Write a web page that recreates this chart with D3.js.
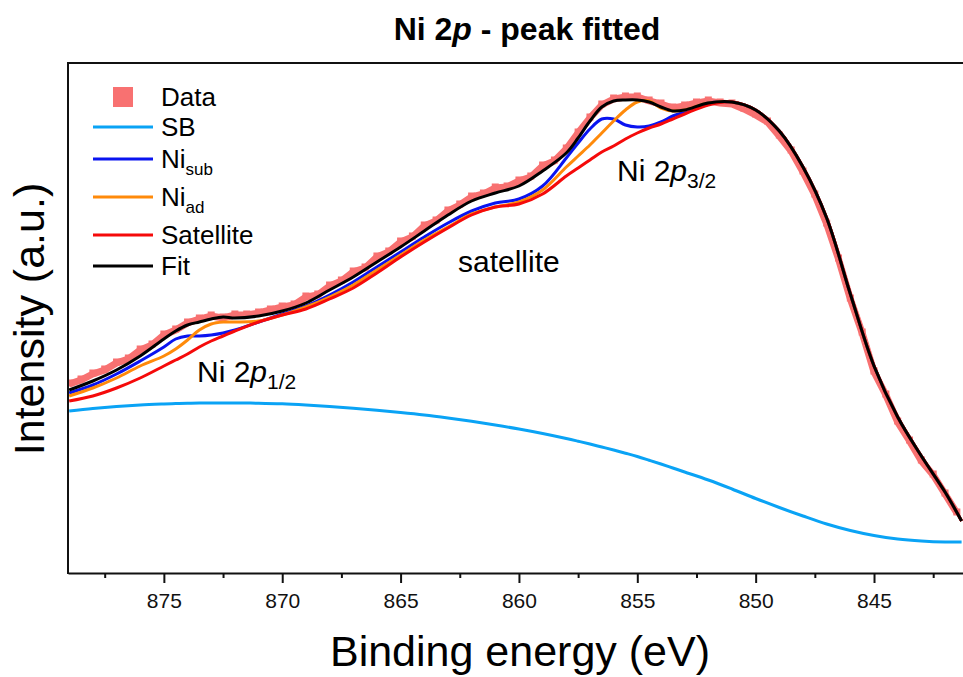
<!DOCTYPE html>
<html>
<head>
<meta charset="utf-8">
<script src="https://cdn.jsdelivr.net/npm/d3@7"></script>
<style>
  body { margin: 0; background: #fff; }
  svg { font-family: "Liberation Sans", Arial, sans-serif; }
</style>
</head>
<body>
<div id="chart"></div>
<script>
// Binding energies (eV) where the fitted curves were read
const energy = [879, 878, 877, 876, 875, 874.5, 874, 873.5, 873, 872.5, 872,
  871, 870, 869, 868, 867, 866, 865, 864, 863, 862, 861, 860, 859, 858,
  857.5, 857, 856.5, 856, 855.5, 855, 854.5, 854, 853.5, 853,
  852, 851, 850, 849, 848, 847, 846, 845, 844, 843, 842, 841.3];

// Curves (arbitrary intensity units)
const fit = [183, 192, 203, 217, 234, 242, 248, 251, 254, 256, 255,
  257, 262, 270, 283, 296, 311, 326, 342, 358, 372, 380, 387, 402, 420,
  435, 452, 466, 472, 473, 473, 471, 466, 462, 463,
  470, 471, 463, 442, 406, 355, 279, 207, 156, 117, 81, 52];
const niSub = [180, 188, 199, 212, 226, 234, 237, 237, 238, 240, 243,
  251, 259, 267, 278, 291, 306, 321, 336, 350, 362, 370, 374, 387, 415,
  430, 444, 454, 454, 448, 446, 447, 451, 457, 461,
  470, 471, 463, 442, 406, 355, 279, 207, 156, 117, 81, 52];
const niAd = [177, 185, 195, 207, 217, 224, 233, 243, 249, 251, 251,
  252, 258, 266, 276, 288, 303, 318, 333, 346, 359, 366, 371, 383, 406,
  417, 428, 440, 452, 463, 471, 472, 465, 462, 463,
  470, 471, 463, 442, 406, 355, 279, 207, 156, 117, 81, 52];
const satellite = [172, 177, 185, 195, 207, 213, 219, 226, 232, 237, 242,
  251, 258, 264, 274, 285, 300, 316, 331, 345, 358, 366, 369, 379, 397,
  405, 413, 421, 427, 434, 440, 445, 449, 454, 459,
  468, 471, 463, 442, 406, 355, 279, 207, 156, 117, 81, 52];
const sb = [162, 164.5, 166.5, 168, 169, 169.4, 169.7, 169.9, 170, 170, 170,
  169.8, 169.2, 168, 166.5, 164.7, 162.7, 160.5, 158, 155, 151.7, 148, 144, 139.5, 134.5,
  131.8, 129, 126, 123, 119.8, 116.5, 112.8, 109, 105, 101,
  93, 84, 74.5, 65.5, 57, 49, 42.5, 37.5, 34, 32, 31, 31];

// Measured spectrum
const dataEnergy = [879, 878.5, 878, 877.5, 877, 876.5, 876, 875.5, 875, 874.5,
  874, 873.5, 873, 872.5, 872, 871.5, 871, 870.5, 870, 869.5,
  869, 868.5, 868, 867.5, 867, 866.5, 866, 865.5, 865, 864.5,
  864, 863.5, 863, 862.5, 862, 861.5, 861, 860.5, 860, 859.5,
  859, 858.5, 858, 857.5, 857, 856.5, 856, 855.5, 855, 854.5,
  854, 853.5, 853, 852.5, 852, 851.5, 851, 850.5, 850, 849.5,
  849, 848.5, 848, 847.5, 847, 846.5, 846, 845.5, 845, 844.5,
  844, 843.5, 843, 842.5, 842, 841.5];
const dataCounts = [189, 193, 199, 203, 210, 214, 223, 228, 238, 243,
  250, 254, 257, 255, 258, 258, 260, 263, 266, 268,
  276, 278, 287, 292, 301, 305, 316, 321, 331, 336,
  347, 352, 362, 368, 376, 379, 385, 386, 392, 396,
  407, 412, 424, 440, 455, 468, 474, 476, 476, 472,
  469, 465, 467, 470, 472, 470, 469, 464, 458, 451,
  437, 422, 401, 378, 349, 314, 274, 240, 201, 178,
  151, 132, 112, 98, 79, 60];

const majorTicks = [875, 870, 865, 860, 855, 850, 845];
const minorTicks = [877.5, 872.5, 867.5, 862.5, 857.5, 852.5, 847.5, 842.5];

const width = 963, height = 677;
const plotLeft = 68, plotTop = 63, plotBottom = 573;

const svg = d3.select("#chart")
  .append("svg")
  .attr("width", width)
  .attr("height", height);

const x = d3.scaleLinear().domain([879.05, 841]).range([plotLeft, 968.7]);
const y = d3.scaleLinear().domain([0, 510]).range([plotBottom, plotTop]);

svg.append("clipPath").attr("id", "plot-clip")
  .append("rect")
  .attr("x", plotLeft).attr("y", plotTop)
  .attr("width", width - plotLeft).attr("height", plotBottom - plotTop);

const plot = svg.append("g").attr("clip-path", "url(#plot-clip)");

// Data: thick band plus squares
const dataPts = dataEnergy.map((e, i) => [e, dataCounts[i]]);
const dataLine = d3.line()
  .x(d => x(d[0]))
  .y(d => y(d[1]))
  .curve(d3.curveLinear);

plot.append("path")
  .attr("d", dataLine(dataPts))
  .attr("fill", "none")
  .attr("stroke", "#f87171")
  .attr("stroke-width", 7);

plot.selectAll("rect.pt")
  .data(dataPts)
  .enter()
  .append("rect")
  .attr("class", "pt")
  .attr("x", d => x(d[0]) - 3.5)
  .attr("y", d => y(d[1]) - 4.5)
  .attr("width", 7)
  .attr("height", 7)
  .attr("fill", "#f87171");

// Fitted curves
const curveLine = d3.line()
  .x((d, i) => x(energy[i]))
  .y(d => y(d))
  .curve(d3.curveCatmullRom.alpha(0.5));

const curves = [
  { values: sb, color: "#0aa3f5" },
  { values: niSub, color: "#0a14f0" },
  { values: niAd, color: "#ff8a0a" },
  { values: satellite, color: "#f50a0a" },
  { values: fit, color: "#000000" }
];

plot.selectAll("path.curve")
  .data(curves)
  .enter()
  .append("path")
  .attr("class", "curve")
  .attr("d", d => curveLine(d.values))
  .attr("fill", "none")
  .attr("stroke", d => d.color)
  .attr("stroke-width", 3)
  .attr("stroke-linejoin", "round");

// Axes
const xAxis = svg.append("g")
  .attr("transform", "translate(0," + plotBottom + ")")
  .call(d3.axisBottom(x)
    .tickValues(majorTicks)
    .tickSize(10)
    .tickSizeOuter(0)
    .tickFormat(d3.format("d")));

xAxis.select(".domain").attr("stroke-width", 2).attr("stroke", "#111");
xAxis.selectAll(".tick line").attr("stroke-width", 2).attr("stroke", "#111");
xAxis.selectAll(".tick text")
  .attr("y", 20)
  .attr("font-size", 21)
  .attr("font-family", "Liberation Sans, Arial, sans-serif")
  .attr("fill", "#111");

svg.append("g")
  .attr("transform", "translate(0," + plotBottom + ")")
  .call(d3.axisBottom(x).tickValues(minorTicks).tickSize(5).tickFormat(""))
  .call(g => g.select(".domain").remove())
  .selectAll(".tick line").attr("stroke-width", 2).attr("stroke", "#111");

// Left and top frame lines
svg.append("line")
  .attr("x1", plotLeft).attr("x2", plotLeft)
  .attr("y1", plotTop).attr("y2", plotBottom + 1)
  .attr("stroke", "#111").attr("stroke-width", 2);
svg.append("line")
  .attr("x1", plotLeft - 1).attr("x2", width)
  .attr("y1", plotTop).attr("y2", plotTop)
  .attr("stroke", "#111").attr("stroke-width", 2);

// Titles
const title = svg.append("text")
  .attr("x", 527).attr("y", 40)
  .attr("text-anchor", "middle")
  .attr("font-size", 32)
  .attr("font-weight", "bold");
title.append("tspan").text("Ni 2");
title.append("tspan").attr("font-style", "italic").text("p");
title.append("tspan").text(" - peak fitted");

svg.append("text")
  .attr("x", 520).attr("y", 666)
  .attr("text-anchor", "middle")
  .attr("font-size", 43)
  .text("Binding energy (eV)");

svg.append("text")
  .attr("transform", "translate(44,319) rotate(-90)")
  .attr("text-anchor", "middle")
  .attr("font-size", 43)
  .text("Intensity (a.u.)");

// Peak annotations
function peakLabel(px, py, sub) {
  const t = svg.append("text").attr("x", px).attr("y", py).attr("font-size", 30);
  t.append("tspan").text("Ni 2");
  t.append("tspan").attr("font-style", "italic").text("p");
  t.append("tspan").attr("font-size", 21).attr("dy", 7).text(sub);
}
peakLabel(617, 181, "3/2");
peakLabel(197, 382, "1/2");

svg.append("text")
  .attr("x", 458).attr("y", 272)
  .attr("font-size", 30)
  .text("satellite");

// Legend
const legendItems = [
  { label: "Data", sub: "", color: "#f87171", type: "square", y: 97 },
  { label: "SB", sub: "", color: "#0aa3f5", type: "line", y: 127 },
  { label: "Ni", sub: "sub", color: "#0a14f0", type: "line", y: 159 },
  { label: "Ni", sub: "ad", color: "#ff8a0a", type: "line", y: 197 },
  { label: "Satellite", sub: "", color: "#f50a0a", type: "line", y: 235 },
  { label: "Fit", sub: "", color: "#000000", type: "line", y: 266 }
];

const legend = svg.append("g");
legendItems.forEach(function (d) {
  if (d.type === "square") {
    legend.append("rect")
      .attr("x", 113).attr("y", d.y - 10)
      .attr("width", 20).attr("height", 20)
      .attr("fill", d.color);
  } else {
    legend.append("line")
      .attr("x1", 93).attr("x2", 153)
      .attr("y1", d.y).attr("y2", d.y)
      .attr("stroke", d.color)
      .attr("stroke-width", 3);
  }
  const t = legend.append("text")
    .attr("x", 161).attr("y", d.y + 9)
    .attr("font-size", 26)
    .text(d.label);
  if (d.sub) {
    t.append("tspan").attr("font-size", 17).attr("dy", 7).text(d.sub);
  }
});
</script>
</body>
</html>
